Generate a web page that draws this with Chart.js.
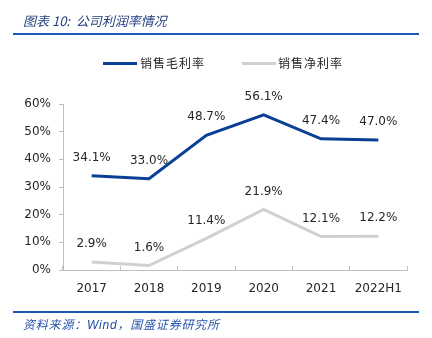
<!DOCTYPE html>
<html>
<head>
<meta charset="utf-8">
<script src="https://cdn.jsdelivr.net/npm/chart.js@4"></script>
<style>
  html, body { margin: 0; padding: 0; background: #ffffff; }
  #wrap { position: relative; width: 432px; height: 338px; overflow: hidden; }
  #myChart { position: absolute; left: 0; top: 0; }
  .title { position: absolute; left: 23px; top: 11px; font: italic 13px "Noto Sans CJK SC", sans-serif; color: #233f80; white-space: nowrap; }
  .rule { position: absolute; left: 13px; width: 406px; height: 2px; background: #1c5bb5; }
  .source { position: absolute; left: 23px; top: 315px; font: italic 12px "Noto Sans CJK SC", sans-serif; letter-spacing: 0.8px; color: #2a55a8; white-space: nowrap; }
  .source b { font-family: "Liberation Sans", Arial, sans-serif; font-weight: normal; color: #1d4a9c; }
  .legend-line { position: absolute; height: 3px; width: 34px; }
  .legend-text { position: absolute; font: 12px "Noto Sans CJK SC", sans-serif; letter-spacing: 1px; color: #262626; white-space: nowrap; }
</style>
</head>
<body>
<div id="wrap">
  <canvas id="myChart" width="432" height="338"></canvas>
  <div class="title">图表 10:&nbsp; 公司利润率情况</div>
  <div class="rule" style="top:33px"></div>
  <div class="legend-line" style="left:103px; top:62px; background:#0b3f95"></div>
  <div class="legend-text" style="left:140px; top:54px">销售毛利率</div>
  <div class="legend-line" style="left:242px; top:62px; background:#d0d0d0"></div>
  <div class="legend-text" style="left:278px; top:54px">销售净利率</div>
  <div class="rule" style="top:311px"></div>
  <div class="source">资料来源：<b>Wind</b>，国盛证券研究所</div>
</div>
<script>
// categories and values
const years = ['2017', '2018', '2019', '2020', '2021', '2022H1'];
const grossMargin = [34.1, 33.0, 48.7, 56.1, 47.4, 47.0];
const netMargin = [2.9, 1.6, 11.4, 21.9, 12.1, 12.2];
const seriesNames = ['销售毛利率', '销售净利率'];

const tickFont = { family: 'DejaVu Sans', size: 12 };

// value labels above each point
const valueLabels = {
    id: 'valueLabels',
    afterDatasetsDraw(chart) {
        const ctx = chart.ctx;
        ctx.save();
        ctx.font = '12px "DejaVu Sans"';
        ctx.fillStyle = '#262626';
        ctx.textAlign = 'center';
        ctx.textBaseline = 'middle';
        chart.data.datasets.forEach((dataset, i) => {
            const meta = chart.getDatasetMeta(i);
            meta.data.forEach((pt, j) => {
                ctx.fillText(dataset.data[j].toFixed(1) + '%', pt.x, pt.y - 18);
            });
        });
        ctx.restore();
    }
};

var chart = new Chart(document.getElementById('myChart'), {
    type: 'line',
    data: {
        labels: years,
        datasets: [
            {
                label: seriesNames[0],
                data: grossMargin,
                borderColor: '#0b3f95',
                borderWidth: 3,
                pointRadius: 0,
                tension: 0
            },
            {
                label: seriesNames[1],
                data: netMargin,
                borderColor: '#d0d0d0',
                borderWidth: 3,
                pointRadius: 0,
                tension: 0
            }
        ]
    },
    options: {
        responsive: false,
        animation: false,
        layout: {
            padding: { left: 0, right: 25, top: 104, bottom: 38 }
        },
        plugins: {
            legend: { display: false },
            tooltip: { enabled: false }
        },
        scales: {
            x: {
                offset: true,
                grid: {
                    display: true,
                    offset: true,
                    drawOnChartArea: false,
                    drawTicks: true,
                    tickLength: -4,
                    color: '#bfbfbf'
                },
                border: { display: true, color: '#bfbfbf', width: 1 },
                ticks: {
                    font: tickFont,
                    color: '#262626',
                    padding: 16,
                    maxRotation: 0
                },
                afterFit: function (scale) {
                    scale.height = 30;
                }
            },
            y: {
                min: 0,
                max: 60,
                grid: {
                    display: true,
                    drawOnChartArea: false,
                    drawTicks: true,
                    tickLength: 4,
                    color: '#bfbfbf'
                },
                border: { display: true, color: '#bfbfbf', width: 1 },
                ticks: {
                    stepSize: 10,
                    font: tickFont,
                    color: '#262626',
                    padding: 8,
                    callback: function (value) {
                        return value + '%';
                    }
                },
                afterFit: function (scale) {
                    scale.width = 63;
                }
            }
        }
    },
    plugins: [valueLabels]
});
</script>
</body>
</html>
